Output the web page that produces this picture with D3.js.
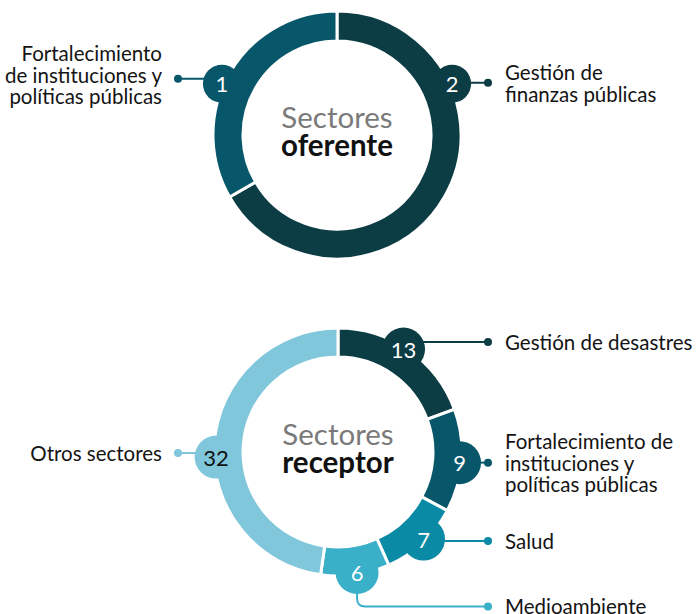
<!DOCTYPE html>
<html>
<head>
<meta charset="utf-8">
<script src="https://cdn.jsdelivr.net/npm/d3@7"></script>
<style>
  body { margin: 0; background: #fff; }
  svg { display: block; font-family: Lato, "Open Sans", sans-serif; }
</style>
</head>
<body>
<div id="app"></div>
<script>
// --- data ---
const oferenteLabels = [["Gestión de", "finanzas públicas"], ["Fortalecimiento", "de instituciones y", "políticas públicas"]];
const oferenteValues = [2, 1];
const oferenteColors = ["#0c3c44", "#07566a"];

const receptorLabels = [
  ["Gestión de desastres"],
  ["Fortalecimiento de", "instituciones y", "políticas públicas"],
  ["Salud"],
  ["Medioambiente"],
  ["Otros sectores"]
];
const receptorValues = [13, 9, 7, 6, 32];
const receptorColors = ["#0c3c44", "#07566a", "#0a8aa4", "#3aafc8", "#80c7dc"];
const receptorNumColors = ["#fff", "#fff", "#fff", "#fff", "#111"];

// --- layout ---
const W = 698, H = 614;
const deg = Math.PI / 180;
const svg = d3.select("#app").append("svg").attr("width", W).attr("height", H);

function donut(opt) {
  const g = svg.append("g").attr("transform", `translate(${opt.cx},${opt.cy})`);
  const pie = d3.pie().sort(null).value(d => d.value);
  const arcs = pie(opt.values.map((v, i) => ({ value: v, i })));
  const arc = d3.arc().innerRadius(opt.r0).outerRadius(opt.r1);

  g.selectAll("path.seg").data(arcs).join("path")
    .attr("class", "seg")
    .attr("d", arc)
    .attr("fill", d => opt.colors[d.data.i])
    .attr("stroke", "#fff")
    .attr("stroke-width", 3);

  arcs.forEach(d => {
    const i = d.data.i;
    const a = opt.labelAngle ? opt.labelAngle[i] * deg : (d.startAngle + d.endAngle) / 2;
    const lx = Math.sin(a) * opt.labelR;
    const ly = -Math.cos(a) * opt.labelR;
    const right = Math.sin(a) >= 0;
    const dotX = (right ? opt.dotRight : opt.dotLeft) - opt.cx;
    const drop = opt.drop ? opt.drop[i] : 0;
    const ty = ly + (opt.leadDy ? opt.leadDy[i] : 0) + drop;
    const col = opt.colors[i];

    // leader line
    const path = drop
      ? `M${lx},${ly} L${lx},${ty - 8} Q${lx},${ty} ${lx + 8},${ty} L${dotX},${ty}`
      : `M${lx},${ty} L${dotX},${ty}`;
    g.append("path").attr("d", path).attr("fill", "none")
      .attr("stroke", col).attr("stroke-width", 2);
    g.append("circle").attr("cx", dotX).attr("cy", ty).attr("r", 4).attr("fill", col);

    // number bubble
    g.append("circle").attr("cx", lx).attr("cy", ly).attr("r", opt.bubbleR).attr("fill", col);
    g.append("text").attr("x", lx).attr("y", ly)
      .attr("text-anchor", "middle").attr("dominant-baseline", "central")
      .attr("font-size", 22).attr("fill", opt.numColors ? opt.numColors[i] : "#fff")
      .text(opt.values[i]);

    // label text
    const lines = opt.labels[i];
    const tx = right ? dotX + 17 : dotX - 16;
    const cyText = ty + (opt.textDy ? opt.textDy[i] : 0);
    const t = g.append("text")
      .attr("text-anchor", right ? "start" : "end")
      .attr("font-size", 20.5).attr("fill", "#141414");
    lines.forEach((s, j) => {
      t.append("tspan")
        .attr("x", tx)
        .attr("y", cyText + (j - (lines.length - 1) / 2) * 21.5)
        .attr("dominant-baseline", "central")
        .text(s);
    });
  });

  // center title
  g.append("text").attr("text-anchor", "middle").attr("y", -7)
    .attr("font-size", 29.5).attr("fill", "#7a7a7a").text("Sectores");
  g.append("text").attr("text-anchor", "middle").attr("y", 21)
    .attr("font-size", 29.5).attr("font-weight", "bold").attr("fill", "#111").text(opt.title);
}

donut({
  cx: 337, cy: 135, r0: 94, r1: 124, labelR: 126, bubbleR: 19,
  values: oferenteValues, colors: oferenteColors, labels: oferenteLabels,
  labelAngle: [66, -66],
  leadDy: [-1, -5],
  textDy: [0, -4],
  dotLeft: 178, dotRight: 488, title: "oferente"
});

donut({
  cx: 338, cy: 452, r0: 95, r1: 124, labelR: 122, bubbleR: 21.5,
  values: receptorValues, colors: receptorColors, labels: receptorLabels,
  numColors: receptorNumColors,
  labelAngle: [32.5, 95, 135.5, 171, 267.6],
  leadDy: [-7, 0, 2, 0, -4],
  drop: [0, 0, 0, 34, 0],
  dotLeft: 178, dotRight: 488, title: "receptor"
});
</script>
</body>
</html>
